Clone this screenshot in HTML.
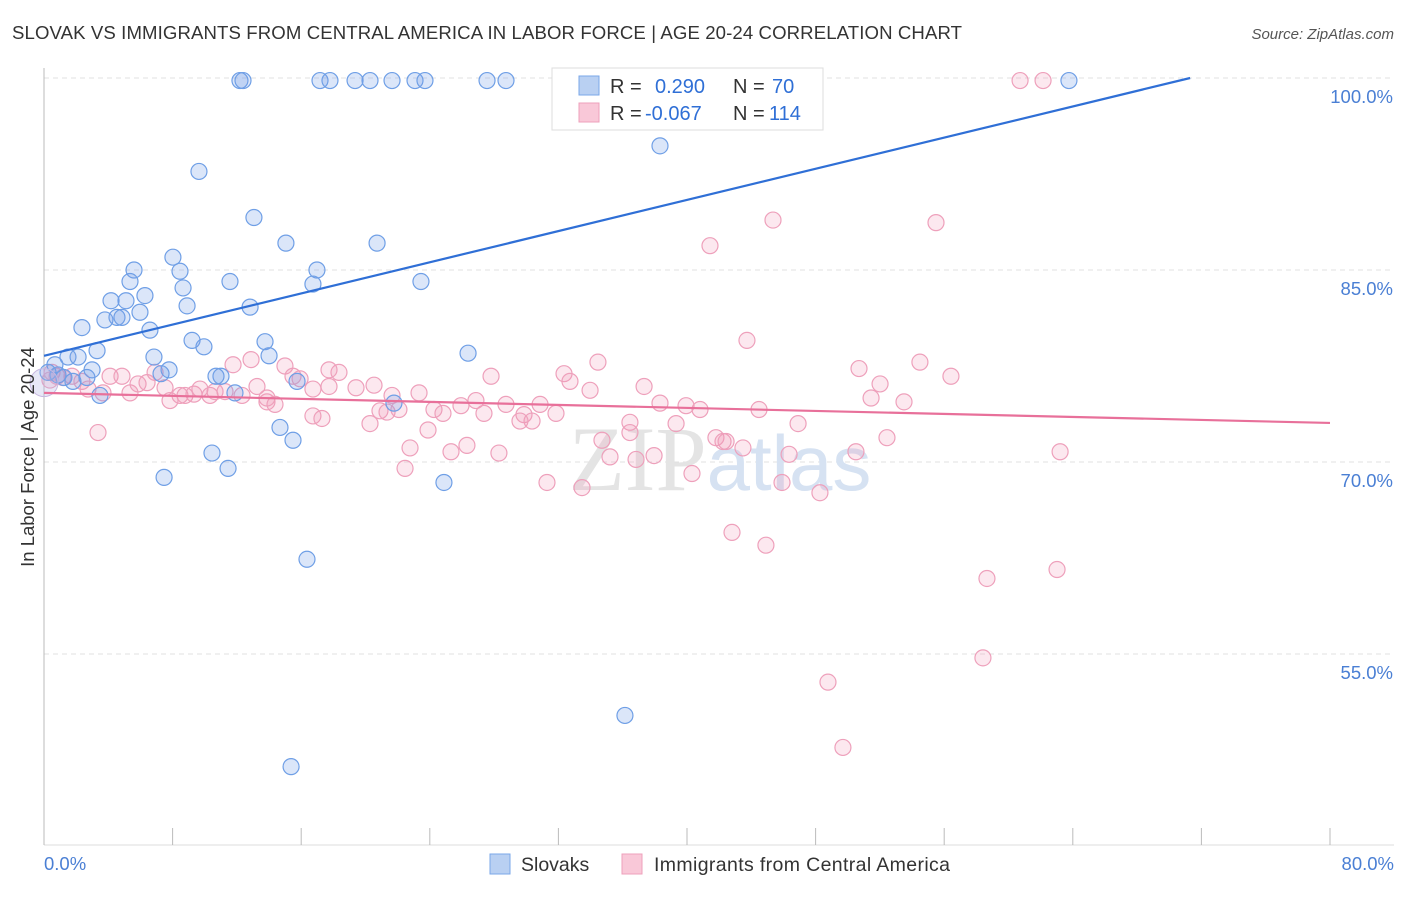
<!DOCTYPE html>
<html><head><meta charset="utf-8"><style>
body{margin:0;background:#fff;font-family:"Liberation Sans",sans-serif}
</style></head><body>
<svg id="chart" width="1406" height="892" xmlns="http://www.w3.org/2000/svg" font-family="Liberation Sans, sans-serif">
<text x="12" y="39" font-size="18.6" fill="#333" textLength="950">SLOVAK VS IMMIGRANTS FROM CENTRAL AMERICA IN LABOR FORCE | AGE 20-24 CORRELATION CHART</text>
<text x="1394" y="39" font-size="15" fill="#555" font-style="italic" text-anchor="end">Source: ZipAtlas.com</text>
<g id="grid"></g>
<text x="720" y="490" font-size="92" text-anchor="middle" fill="#e4e4e4" font-family="Liberation Serif, serif">ZIP<tspan fill="#d6e2f2" font-family="Liberation Sans, sans-serif" font-size="78">atlas</tspan></text>
<g id="pts"></g>
<g id="lines"></g>
<text transform="translate(34,457) rotate(-90)" font-size="18.5" fill="#333" text-anchor="middle">In Labor Force | Age 20-24</text>
<text x="44" y="870" font-size="18.5" fill="#4a7fd4">0.0%</text>
<text x="1394" y="870" font-size="18.5" fill="#4a7fd4" text-anchor="end">80.0%</text>
<g>
<rect x="552" y="68" width="271" height="62" fill="#fff" stroke="#ddd"/>
<rect x="579" y="76" width="20" height="19" fill="#b9d0f2" stroke="#7aa7e8"/>
<rect x="579" y="103" width="20" height="19" fill="#f9c8d8" stroke="#eea0bb"/>
<text x="610" y="93" font-size="20" fill="#333">R =</text>
<text x="655" y="93" font-size="20" fill="#2f6fd6">0.290</text>
<text x="733" y="93" font-size="20" fill="#333">N =</text>
<text x="772" y="93" font-size="20" fill="#2f6fd6">70</text>
<text x="610" y="120" font-size="20" fill="#333">R =</text>
<text x="645" y="120" font-size="20" fill="#2f6fd6">-0.067</text>
<text x="733" y="120" font-size="20" fill="#333">N =</text>
<text x="769" y="120" font-size="20" fill="#2f6fd6">114</text>
</g>
<g>
<rect x="490" y="854" width="20" height="20" fill="#b9d0f2" stroke="#7aa7e8"/>
<text x="521" y="871" font-size="19.5" fill="#333">Slovaks</text>
<rect x="622" y="854" width="20" height="20" fill="#f9c8d8" stroke="#eea0bb"/>
<text x="654" y="871" font-size="19.5" fill="#333" textLength="296">Immigrants from Central America</text>
</g>
</svg>
<script>
const yTicks=[100,85,70,55];
const xTicks=[0,8,16,24,32,40,48,56,64,72,80];
const blueX=[12.19,12.38,17.17,17.79,19.35,20.28,21.65,23.08,23.70,27.56,28.74,63.76,38.32,9.64,13.06,15.05,20.72,8.02,5.60,8.46,16.98,5.35,11.57,16.73,23.45,8.65,6.28,4.17,5.10,8.90,12.82,5.97,3.79,4.54,4.85,2.36,6.59,9.21,9.95,13.75,3.30,14.00,26.38,1.49,2.12,6.84,0.68,2.99,7.78,10.70,11.01,7.28,0.25,0.87,1.24,1.80,2.67,15.74,3.48,11.88,21.77,14.68,15.49,10.45,11.45,7.47,24.88,16.36,36.14,15.37];
const blueY=[99.8,99.8,99.8,99.8,99.8,99.8,99.8,99.8,99.8,99.8,99.8,99.8,94.7,92.7,89.1,87.1,87.1,86.0,85.0,84.9,85.0,84.1,84.1,83.9,84.1,83.6,83.0,82.6,82.6,82.2,82.1,81.7,81.1,81.3,81.3,80.5,80.3,79.5,79.0,79.4,78.7,78.3,78.5,78.2,78.2,78.2,77.6,77.2,77.2,76.7,76.7,76.9,77.0,76.8,76.6,76.3,76.6,76.3,75.2,75.4,74.6,72.7,71.7,70.7,69.5,68.8,68.4,62.4,50.2,46.2];
const pinkX=[47.65,60.72,62.15,45.35,55.49,41.43,43.73,54.49,34.46,50.70,56.42,32.35,32.72,27.81,52.01,37.33,33.97,51.45,53.50,44.48,38.32,39.94,40.81,30.86,28.74,26.87,25.94,24.26,24.82,27.37,29.86,30.36,31.85,29.61,23.33,21.65,20.90,21.34,22.08,20.53,19.41,17.73,18.35,17.73,16.73,15.93,14.99,15.49,12.88,11.76,13.25,13.87,14.37,16.73,17.29,20.28,36.45,39.32,46.91,41.80,42.24,43.48,46.35,52.44,50.51,36.45,34.71,35.21,36.83,37.95,26.31,25.32,28.30,23.89,22.77,22.46,31.29,33.47,40.31,45.91,48.27,42.80,44.91,58.66,63.02,58.41,48.77,49.70,63.21,3.36,0.50,1.18,1.74,2.36,2.74,3.67,4.11,4.85,5.35,5.85,6.41,6.91,7.53,7.84,8.46,8.77,9.33,9.70,10.33,10.64,11.26,12.32,13.87,0.37,0.81,42.43];
const pinkY=[99.8,99.8,99.8,88.9,88.7,86.9,79.5,77.8,77.8,77.3,76.7,76.9,76.3,76.7,76.1,75.9,75.6,75.0,74.7,74.1,74.6,74.4,74.1,74.5,74.5,74.8,74.4,74.1,73.8,73.8,73.7,73.2,73.8,73.2,75.4,75.2,74.0,73.9,74.1,76.0,75.8,75.9,77.0,77.2,75.7,76.5,77.5,76.7,78.0,77.6,75.9,74.7,74.5,73.6,73.4,73.0,73.1,73.0,73.0,71.9,71.6,71.1,70.6,71.9,70.8,72.3,71.7,70.4,70.2,70.5,71.3,70.8,70.7,72.5,71.1,69.5,68.4,68.0,69.1,68.4,67.6,64.5,63.5,60.9,61.6,54.7,52.8,47.7,70.8,72.3,77.0,76.6,76.7,76.3,75.7,75.4,76.7,76.7,75.4,76.1,76.2,77.0,75.8,74.8,75.2,75.2,75.3,75.7,75.2,75.5,75.5,75.2,75.0,76.4,76.7,71.6];
const blueTrend=[[0,78.3],[71.3,100]];
const pinkTrend=[[0,75.4],[80,73.05]];
const NS='http://www.w3.org/2000/svg';
const X=v=>44+v/80*1286;
const Y=v=>78+(100-v)*12.8;
function mk(t,a,p){const e=document.createElementNS(NS,t);for(const k in a)e.setAttribute(k,a[k]);p.appendChild(e);return e;}
const grid=document.getElementById('grid');
yTicks.forEach(t=>{
 const l=mk('line',{x1:44,x2:1394,y1:Y(t),y2:Y(t),stroke:'#e0e0e0','stroke-dasharray':'5,4'},grid);
 
 
 const tx=mk('text',{x:1393,y:Y(t)+25,'font-size':18.5,fill:'#4a7fd4','text-anchor':'end'},grid);
 tx.textContent=t.toFixed(1)+'%';
 
 
});
const ax=mk('line',{x1:44,x2:44,y1:68,y2:845,stroke:'#bbb'},grid);


const bx=mk('line',{x1:44,x2:1394,y1:845,y2:845,stroke:'#ddd'},grid);


xTicks.forEach(t=>{
 const l=mk('line',{x1:X(t),x2:X(t),y1:828,y2:845,stroke:'#bbb'},grid);
 
 
});
const pts=document.getElementById('pts');
pinkX.forEach((x,i)=>{
 const c=mk('circle',{cx:X(x),cy:Y(pinkY[i]),r:8,fill:'rgba(240,150,180,0.22)',stroke:'#eea0bb','stroke-width':1.2},pts);
 
 
});
blueX.forEach((x,i)=>{
 const c=mk('circle',{cx:X(x),cy:Y(blueY[i]),r:8,fill:'rgba(110,155,230,0.25)',stroke:'#6f9fe6','stroke-width':1.2},pts);
 
 
});
const big=mk('circle',{cx:X(0),cy:Y(76.2),r:14,fill:'rgba(180,180,230,0.3)',stroke:'#c8b8e0'},pts);


const lines=document.getElementById('lines');
const bl=mk('line',{x1:X(blueTrend[0][0]),y1:Y(blueTrend[0][1]),x2:X(blueTrend[1][0]),y2:Y(blueTrend[1][1]),stroke:'#2f6fd6','stroke-width':2.2},lines);


const pl=mk('line',{x1:X(pinkTrend[0][0]),y1:Y(pinkTrend[0][1]),x2:X(pinkTrend[1][0]),y2:Y(pinkTrend[1][1]),stroke:'#e8709a','stroke-width':2.2},lines);


</script>
</body></html>
